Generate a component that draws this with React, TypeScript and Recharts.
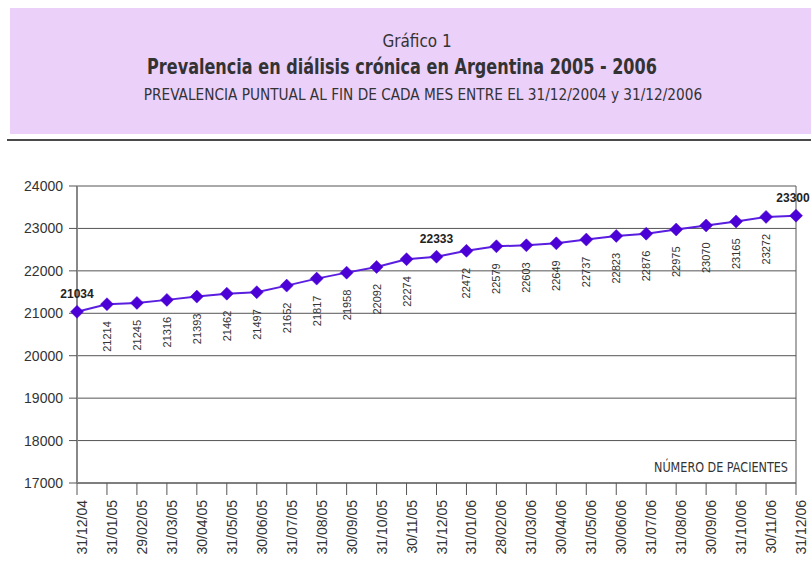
import React from "react";
import { LineChart, Line, XAxis, YAxis, CartesianGrid, LabelList, ReferenceLine } from "recharts";

const fechas = [
  "31/12/04", "31/01/05", "29/02/05", "31/03/05", "30/04/05", "31/05/05", "30/06/05",
  "31/07/05", "31/08/05", "30/09/05", "31/10/05", "30/11/05", "31/12/05", "31/01/06",
  "28/02/06", "31/03/06", "30/04/06", "31/05/06", "30/06/06", "31/07/06", "31/08/06",
  "30/09/06", "31/10/06", "30/11/06", "31/12/06",
];

const pacientes = [
  21034, 21214, 21245, 21316, 21393, 21462, 21497, 21652, 21817, 21958, 22092, 22274,
  22333, 22472, 22579, 22603, 22649, 22737, 22823, 22876, 22975, 23070, 23165, 23272, 23300,
];

const cierreAnual = ["31/12/04", "31/12/05", "31/12/06"];

const yTicks = [17000, 18000, 19000, 20000, 21000, 22000, 23000, 24000];

const titulo = "Gráfico 1";
const tituloPrincipal = "Prevalencia en diálisis crónica en Argentina 2005 - 2006";
const subtitulo = "PREVALENCIA PUNTUAL AL FIN DE CADA MES ENTRE EL 31/12/2004 y 31/12/2006";
const etiquetaEje = "NÚMERO DE PACIENTES";

const data = fechas.map((f, i) => ({ fecha: f, valor: pacientes[i], destacado: cierreAnual.includes(f) }));

const NARROW = "'DejaVu Sans Condensed', 'DejaVu Sans', sans-serif";
const SANS = "'Liberation Sans', Arial, sans-serif";
const CHART_W = 811;

const Diamond = (props: any) => {
  const { cx, cy } = props;
  if (cx == null || cy == null) return null;
  const r = 6.5;
  return (
    <path
      d={`M${cx},${cy - r} L${cx + r},${cy} L${cx},${cy + r} L${cx - r},${cy} Z`}
      fill="#4b00d6"
      stroke="#4b00d6"
      strokeWidth={0.5}
    />
  );
};

const renderLabel = (props: any) => {
  const { x, y, value, index } = props;
  const d = data[index];
  if (d && d.destacado) {
    const cx = Math.min(x, CHART_W - 18);
    return (
      <text x={cx} y={y - 14} textAnchor="middle" fontWeight="bold" fontSize={12} fill="#222" fontFamily={SANS}>
        {value}
      </text>
    );
  }
  const ax = x + 4;
  const ay = y + 17;
  return (
    <text x={ax} y={ay} transform={`rotate(-90 ${ax} ${ay})`} textAnchor="end" fontSize={11} fill="#333" fontFamily={SANS}>
      {value}
    </text>
  );
};

const XTick = (props: any) => {
  const { x, y, payload } = props;
  const ax = x + 10;
  const ay = y + 3;
  return (
    <text x={ax} y={ay} transform={`rotate(-90 ${ax} ${ay})`} textAnchor="end" fontSize={14} fill="#333" fontFamily={SANS}>
      {payload.value}
    </text>
  );
};

const EjeLabel = (props: any) => {
  const { viewBox } = props;
  if (!viewBox) return null;
  const { x, y, width } = viewBox;
  return (
    <text
      x={x + width - 8}
      y={y - 11}
      textAnchor="end"
      fontSize={14}
      fill="#333"
      fontFamily={NARROW}
      textLength={134}
      lengthAdjust="spacingAndGlyphs"
    >
      {etiquetaEje}
    </text>
  );
};

const centered = (cx: number, top: number, sx: number, style: React.CSSProperties, text: string) => (
  <div
    style={{
      position: "absolute",
      left: cx - 400,
      width: 800,
      top,
      textAlign: "center",
      whiteSpace: "nowrap",
      color: "#333",
      fontFamily: NARROW,
      transform: `scaleX(${sx})`,
      transformOrigin: "50% 50%",
      ...style,
    }}
  >
    {text}
  </div>
);

export default function App() {
  return (
    <div style={{ position: "absolute", left: 0, top: 0, width: 811, height: 588, background: "#fff", overflow: "hidden" }}>
      <div style={{ position: "absolute", left: 0, top: 0 }}>
        <LineChart width={CHART_W} height={588} data={data} margin={{ top: 186, right: 15, bottom: 0, left: 0 }}>
          <CartesianGrid vertical={false} stroke="#555" strokeWidth={1} />
          <XAxis
            dataKey="fecha"
            interval={0}
            height={105}
            tickSize={12}
            tick={<XTick />}
            stroke="#555"
            tickLine={{ stroke: "#555" }}
            axisLine={{ stroke: "#555" }}
          />
          <YAxis
            domain={[17000, 24000]}
            ticks={yTicks}
            width={77}
            tickSize={8}
            tickMargin={6}
            tick={{ fontSize: 14, fill: "#333", fontFamily: SANS }}
            axisLine={{ stroke: "#888", strokeWidth: 2 }}
            tickLine={{ stroke: "#555" }}
            allowDataOverflow
          />
          <ReferenceLine x={fechas[fechas.length - 1]} stroke="#555" strokeWidth={1} />
          <ReferenceLine y={17000} stroke="none" label={<EjeLabel />} />
          <Line
            type="linear"
            dataKey="valor"
            stroke="#5a1ee0"
            strokeWidth={2}
            dot={<Diamond />}
            activeDot={false}
            isAnimationActive={false}
          >
            <LabelList dataKey="valor" content={renderLabel} />
          </Line>
        </LineChart>
      </div>
      <div style={{ position: "absolute", left: 10, top: 8, width: 801, height: 126, background: "#ebd0fa" }} />
      <div style={{ position: "absolute", left: 7, top: 139, width: 804, height: 2, background: "#4a4a4a" }} />
      {centered(417, 30, 0.94, { fontSize: 18 }, titulo)}
      {centered(402, 55, 0.85, { fontSize: 21, fontWeight: "bold" }, tituloPrincipal)}
      {centered(423, 85, 0.95, { fontSize: 16 }, subtitulo)}
    </div>
  );
}
